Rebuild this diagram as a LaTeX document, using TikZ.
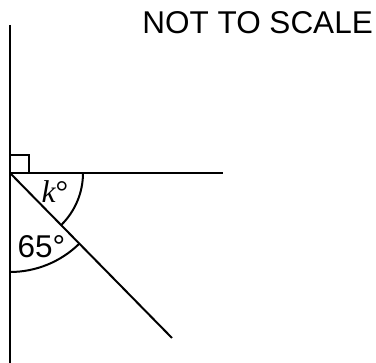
\documentclass[tikz,border=0pt]{standalone}
\usepackage{fontspec}
\setmainfont{Liberation Sans}
\newfontfamily\serifit{Liberation Serif}
\usetikzlibrary{calc}

\begin{document}
\begin{tikzpicture}[
  x=1pt, y=-1pt,
  every node/.style={font=\fontsize{31.5}{36}\selectfont, inner sep=0pt},
  ray/.style={line width=2pt},
  anglearc/.style={line width=2pt},
]
  \useasboundingbox (0,0) rectangle (376,363);

  \coordinate (O) at (10,173);
  \coordinate (top) at (10,25);
  \coordinate (bot) at (10,363);
  \coordinate (hor) at (223,173);
  \coordinate (diag) at (172,338);

  \draw[ray] (top) -- (bot);
  \draw[ray] (O) -- (hor);
  \draw[ray] (O) -- (diag);

  % right angle
  \draw[line width=1.6pt] ($(O)+(0,-18)$) -- ($(O)+(19,-18)$) -- ($(O)+(19,0)$);

  % angle arcs
  \draw[anglearc] ($(O)+(73,0)$) arc[start angle=0, end angle=45.5, radius=73];
  \draw[anglearc] ($(O)+(45.5:99)$) arc[start angle=45.5, end angle=90, radius=99];

  \node (k) at (55,192) {\serifit\itshape k\upshape°};
  \node (a65) at (41.5,246.5) {65°};

  \node[anchor=north east] (title) at (373,11) {NOT TO SCALE};
\end{tikzpicture}
\end{document}
